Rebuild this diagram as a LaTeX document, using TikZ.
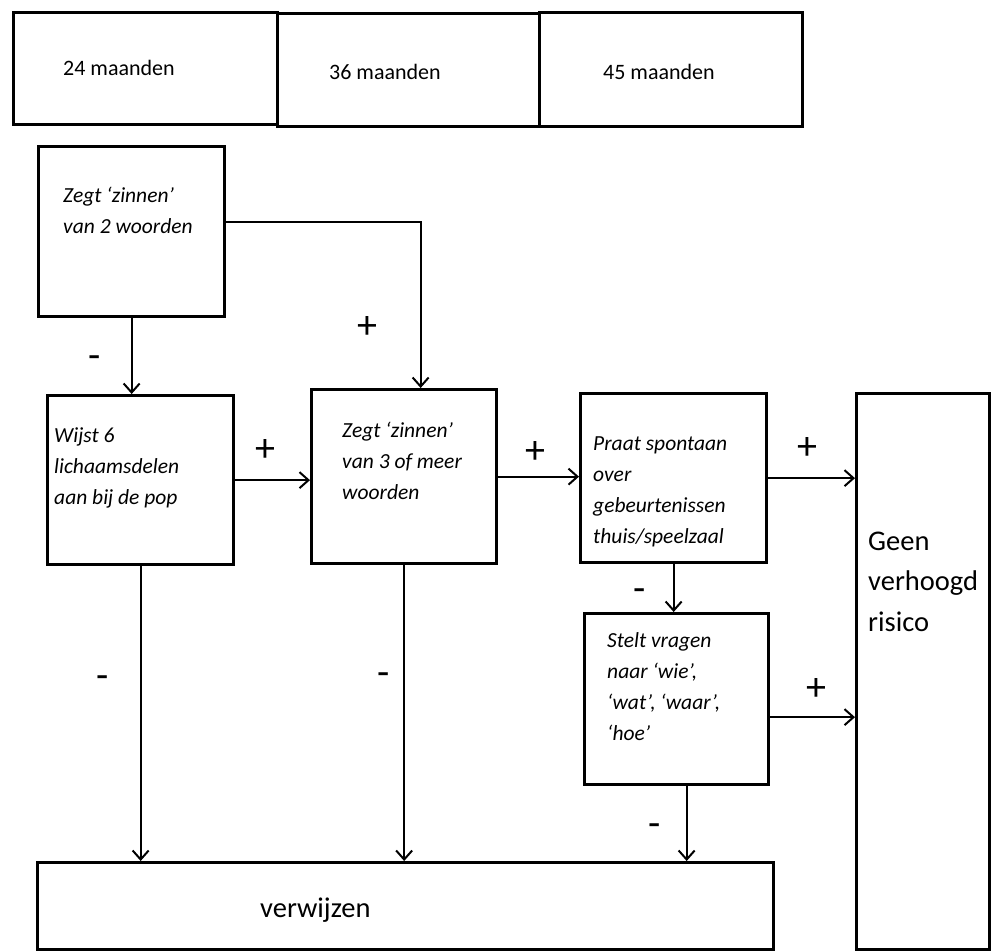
\documentclass[tikz,border=0pt]{standalone}
\usepackage{fontspec}
\setmainfont{Carlito}
\usetikzlibrary{arrows.meta}

\tikzset{
  box/.style={draw, line width=3.3pt, inner sep=0pt, anchor=north west},
  txt/.style={anchor=base west, inner sep=0pt, align=left, font=\fontsize{21.5}{31}\selectfont\itshape},
  toptxt/.style={anchor=base west, inner sep=0pt, font=\fontsize{22}{26}\selectfont},
  bigtxt/.style={anchor=base west, inner sep=0pt, align=left, font=\fontsize{28.5}{40.5}\selectfont},
  sign/.style={inner sep=0pt, font=\fontsize{40}{40}\selectfont},
  arr/.style={line width=2pt, -{Straight Barb[length=9pt,width=16pt,line width=2pt]}}
}

\begin{document}
\begin{tikzpicture}[x=1pt, y=-1pt]
    \useasboundingbox (0,0) rectangle (992,950);

    % Draw age boxes
    \node[box, minimum width=264, minimum height=112] (m24) at (12,11) {};
    \node[box, minimum width=262, minimum height=113] (m36) at (276,12) {};
    \node[box, minimum width=263, minimum height=114] (m45) at (538,11) {};
    \node[toptxt] (t24) at (63,75) {24 maanden};
    \node[toptxt] (t36) at (329,79) {36 maanden};
    \node[toptxt] (t45) at (603,79) {45 maanden};

    % Draw question boxes
    \node[box, minimum width=186, minimum height=170] (zegt2) at (37,145) {};
    \node[box, minimum width=186, minimum height=169] (wijst) at (46,394) {};
    \node[box, minimum width=185, minimum height=174] (zegt3) at (310,388) {};
    \node[box, minimum width=186, minimum height=169] (praat) at (579,392) {};
    \node[box, minimum width=184, minimum height=171] (stelt) at (583,612) {};

    % Draw outcome boxes
    \node[box, minimum width=736, minimum height=87] (verw) at (36,861) {};
    \node[box, minimum width=133, minimum height=556] (geen) at (855,392) {};

    % Box texts (placed at the baseline of the last line)
    \node[txt] (tzegt2) at (63,233) {Zegt ‘zinnen’\\van 2 woorden};
    \node[txt] (twijst) at (54,504) {Wijst 6\\lichaamsdelen\\aan bij de pop};
    \node[txt] (tzegt3) at (342,499) {Zegt ‘zinnen’\\van 3 of meer\\woorden};
    \node[txt] (tpraat) at (593,543) {Praat spontaan\\over\\gebeurtenissen\\thuis/speelzaal};
    \node[txt] (tstelt) at (607,740) {Stelt vragen\\naar ‘wie’,\\‘wat’, ‘waar’,\\‘hoe’};
    \node[bigtxt] (tverw) at (260,917) {verwijzen};
    \node[bigtxt] (tgeen) at (868,631) {Geen\\verhoogd\\risico};

    % Draw arrows
    \draw[arr] ([yshift=10pt]zegt2.east) -| ([xshift=16.5pt]zegt3.north);
    \draw[arr] (zegt2.south) -- (zegt2.south |- wijst.north);
    \draw[arr] (wijst.east) -- (wijst.east -| zegt3.west);
    \draw[arr] (zegt3.east) -- (zegt3.east -| praat.west);
    \draw[arr] (praat.east) -- (praat.east -| geen.west);
    \draw[arr] (praat.south) -- (praat.south |- stelt.north);
    \draw[arr] ([yshift=-18pt]stelt.east) -- ([yshift=-18pt]stelt.east -| geen.west);
    \draw[arr] (wijst.south) -- (wijst.south |- verw.north);
    \draw[arr] (zegt3.south) -- (zegt3.south |- verw.north);
    \draw[arr] ([xshift=10pt]stelt.south) -- ([xshift=10pt]stelt.south |- verw.north);

    % Plus and minus signs
    \node[sign] (s1) at (95,362) {-};
    \node[sign] (s2) at (367,327) {+};
    \node[sign] (s3) at (265,450) {+};
    \node[sign] (s4) at (535,452) {+};
    \node[sign] (s5) at (807,448) {+};
    \node[sign] (s6) at (640,595) {-};
    \node[sign] (s7) at (816,689) {+};
    \node[sign] (s8) at (103,682) {-};
    \node[sign] (s9) at (384,679) {-};
    \node[sign] (s10) at (655,830) {-};
\end{tikzpicture}
\end{document}
